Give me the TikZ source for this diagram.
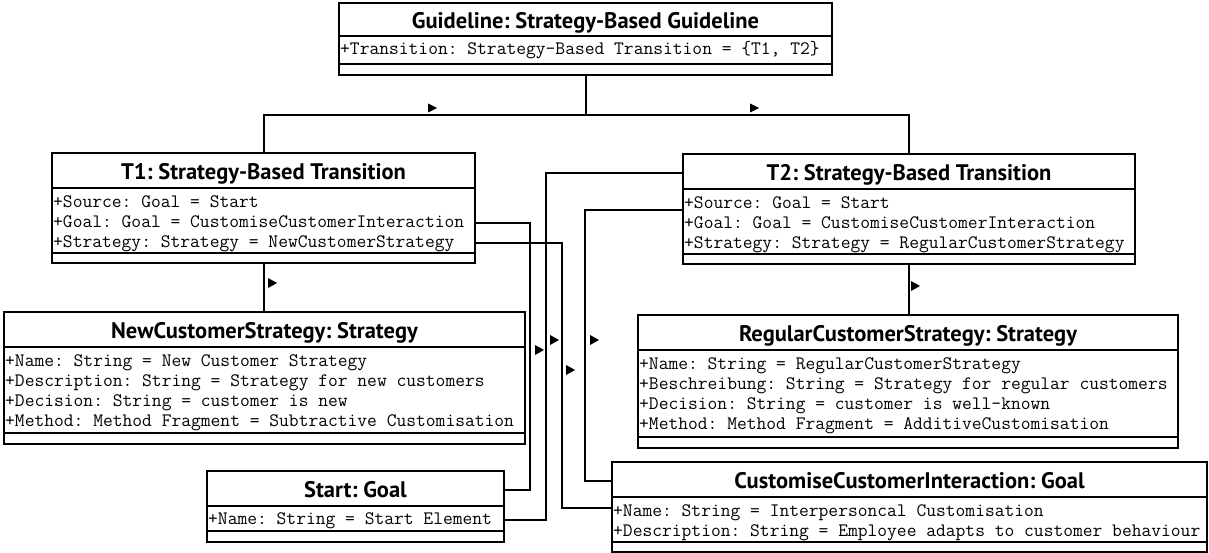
\documentclass[tikz,border=0pt]{standalone}
\usepackage{fontspec}
\newfontfamily\headfont{PT Sans}
\usepackage{tikz}
\usetikzlibrary{calc}
\frenchspacing

\tikzset{
  objbox/.style={draw,line width=2.2pt,anchor=north west,inner sep=0pt,outer sep=0pt},
  objhead/.style={font=\headfont\bfseries\fontsize{22.5}{26}\selectfont,inner sep=0pt,text height=15pt,text depth=0pt},
  objattr/.style={font=\ttfamily\fontsize{19}{20}\selectfont\frenchspacing,anchor=west,inner sep=0pt,text height=10.5pt,text depth=1.5pt},
  divider/.style={line width=2pt},
  link/.style={line width=2pt},
  navtip/.style={fill=black}
}

\begin{document}
\begin{tikzpicture}[x=1pt,y=-1pt]
  \useasboundingbox (0,0) rectangle (1209,553);

  % guideline
  \node[objbox,minimum width=493pt,minimum height=72pt] (guide) at (339,3) {};
  \node[objhead] (guidehead) at (585.5,21) {Guideline: Strategy-Based Guideline};
  \draw[divider] (339,36) -- (832,36);
  \node[objattr] (guidetrans) at (340,50) {+Transition: Strategy-Based Transition = \{T1, T2\}};
  \draw[divider] (339,64) -- (832,64);

  % T1
  \node[objbox,minimum width=423pt,minimum height=110pt] (t1) at (52,153) {};
  \node[objhead] (t1head) at (263.5,172) {T1: Strategy-Based Transition};
  \draw[divider] (52,188) -- (475,188);
  \node[objattr] (t1src) at (53,203) {+Source: Goal = Start};
  \node[objattr] (t1goal) at (53,223) {+Goal: Goal = CustomiseCustomerInteraction};
  \node[objattr] (t1strat) at (53,243) {+Strategy: Strategy = NewCustomerStrategy};
  \draw[divider] (52,253) -- (475,253);

  % T2
  \node[objbox,minimum width=452pt,minimum height=110pt] (t2) at (683,154) {};
  \node[objhead] (t2head) at (909,173) {T2: Strategy-Based Transition};
  \draw[divider] (683,189) -- (1135,189);
  \node[objattr] (t2src) at (684,204) {+Source: Goal = Start};
  \node[objattr] (t2goal) at (684,224) {+Goal: Goal = CustomiseCustomerInteraction};
  \node[objattr] (t2strat) at (684,244) {+Strategy: Strategy = RegularCustomerStrategy};
  \draw[divider] (683,254) -- (1135,254);

  % strategies
  \node[objbox,minimum width=521pt,minimum height=132pt] (ncs) at (4,312) {};
  \node[objhead] (ncshead) at (264.5,331) {NewCustomerStrategy: Strategy};
  \draw[divider] (4,347) -- (525,347);
  \node[objattr] (ncsname) at (5,362) {+Name: String = New Customer Strategy};
  \node[objattr] (ncsdesc) at (5,382) {+Description: String = Strategy for new customers};
  \node[objattr] (ncsdec) at (5,402) {+Decision: String = customer is new};
  \node[objattr] (ncsmeth) at (5,422) {+Method: Method Fragment = Subtractive Customisation};
  \draw[divider] (4,433) -- (525,433);

  \node[objbox,minimum width=540pt,minimum height=133pt] (rcs) at (638,315) {};
  \node[objhead] (rcshead) at (908,334) {RegularCustomerStrategy: Strategy};
  \draw[divider] (638,350) -- (1178,350);
  \node[objattr] (rcsname) at (639,365) {+Name: String = RegularCustomerStrategy};
  \node[objattr] (rcsdesc) at (639,385) {+Beschreibung: String = Strategy for regular customers};
  \node[objattr] (rcsdec) at (639,405) {+Decision: String = customer is well-known};
  \node[objattr] (rcsmeth) at (639,425) {+Method: Method Fragment = AdditiveCustomisation};
  \draw[divider] (638,437) -- (1178,437);

  % goals
  \node[objbox,minimum width=297pt,minimum height=71pt] (start) at (207,471) {};
  \node[objhead] (starthead) at (355.5,490) {Start: Goal};
  \draw[divider] (207,506) -- (504,506);
  \node[objattr] (startname) at (208,520) {+Name: String = Start Element};
  \draw[divider] (207,531) -- (504,531);

  \node[objbox,minimum width=595pt,minimum height=90pt] (cci) at (612,462) {};
  \node[objhead] (ccihead) at (909.5,481) {CustomiseCustomerInteraction: Goal};
  \draw[divider] (612,497) -- (1207,497);
  \node[objattr] (cciname) at (613,512) {+Name: String = Interpersoncal Customisation};
  \node[objattr] (ccidesc) at (613,532) {+Description: String = Employee adapts to customer behaviour};
  \draw[divider] (612,542) -- (1207,542);

  % links
  \draw[link] (guide.south) -- ++(0,40) -| (t1.north);
  \draw[link] (guide.south) -- ++(0,40) -| (t2.north);
  \draw[link] (t1.south) -- (t1.south |- ncs.north);
  \draw[link] (t2.south) -- (t2.south |- rcs.north);
  \draw[link] (t1goal -| t1.east) -- ++(55,0) |- (starthead -| start.east);
  \draw[link] (t1strat -| t1.east) -- ++(87,0) |- ([yshift=4pt]cciname.west -| cci.west);
  \draw[link] (t2head -| t2.west) -- ++(-137,0) |- (startname -| start.east);
  \draw[link] ([yshift=-6pt]t2src.west -| t2.west) -- ++(-98,0) |- (ccihead -| cci.west);

  % navigability marks
  \fill[navtip] (437,108) -- ++(-9,-4.5) -- ++(0,9) -- cycle;
  \fill[navtip] (759,108) -- ++(-9,-4.5) -- ++(0,9) -- cycle;
  \fill[navtip] (277,283) -- ++(-9,-5) -- ++(0,10) -- cycle;
  \fill[navtip] (920,286) -- ++(-9,-5) -- ++(0,10) -- cycle;
  \fill[navtip] (544,350) -- ++(-9,-5) -- ++(0,10) -- cycle;
  \fill[navtip] (559,340) -- ++(-9,-5) -- ++(0,10) -- cycle;
  \fill[navtip] (575,370) -- ++(-9,-5) -- ++(0,10) -- cycle;
  \fill[navtip] (599,340) -- ++(-9,-5) -- ++(0,10) -- cycle;
\end{tikzpicture}
\end{document}
